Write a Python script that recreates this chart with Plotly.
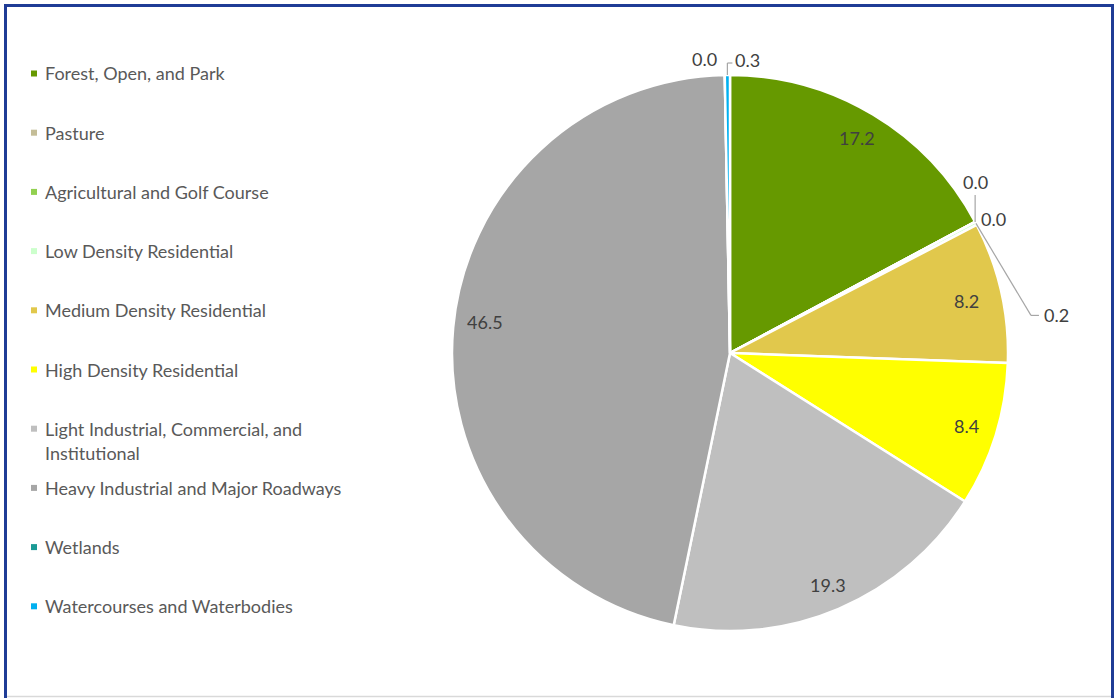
import math
import textwrap
import plotly.graph_objects as go

# Land-use shares (%) in drawing order, clockwise from 12 o'clock
categories = [
    "Forest, Open, and Park",
    "Pasture",
    "Agricultural and Golf Course",
    "Low Density Residential",
    "Medium Density Residential",
    "High Density Residential",
    "Light Industrial, Commercial, and Institutional",
    "Heavy Industrial and Major Roadways",
    "Wetlands",
    "Watercourses and Waterbodies",
]
shares = [17.2, 0.0, 0.0, 0.2, 8.2, 8.4, 19.3, 46.5, 0.0, 0.3]
colors = [
    "#669900", "#c4bd97", "#92d050", "#ccffcc", "#e1c84c",
    "#ffff00", "#bfbfbf", "#a6a6a6", "#1b9a95", "#00b0f0",
]

W, H = 1115, 698
CX, CY, R = 730, 353, 278          # pie centre and radius in pixels
FONT = "Lato"
LABEL_COLOR = "#404040"
LEGEND_COLOR = "#595959"
LEADER_COLOR = "#a6a6a6"


def px(x):
    return x / W


def py(y):
    return 1 - y / H


total = sum(shares)
mid_angles = []
acc = 0.0
for v in shares:
    mid_angles.append((acc + v / 2) / total * 360.0)
    acc += v


def polar(angle_deg, radius):
    a = math.radians(angle_deg)
    return CX + radius * math.sin(a), CY - radius * math.cos(a)


fig = go.Figure()
fig.add_trace(go.Pie(
    labels=categories,
    values=shares,
    sort=False,
    direction="clockwise",
    rotation=0,
    marker=dict(colors=colors, line=dict(color="white", width=2.5)),
    textinfo="none",
    hoverinfo="label+value",
    showlegend=False,
    domain=dict(x=[px(CX - R), px(CX + R)], y=[py(CY + R), py(CY - R)]),
))

annotations = []
shapes = []

# Small slices get their labels outside, some with leader lines
# (offsets in pixels from the slice's outer edge at mid-angle)
outside = {
    1: dict(line=[(0, 0), (0, -27)], text=(0, -40), anchor="center"),
    2: dict(line=None, text=(4, -3), anchor="left"),
    3: dict(line=[(0, 0), (55, 92), (63, 92)], text=(66, 92), anchor="left"),
    8: dict(line=None, text=(-6, -16), anchor="right"),
    9: dict(line=[(0, 0), (0, -12), (5, -12)], text=(6, -15), anchor="left"),
}
# Fine placement nudges for the inside labels (pixels)
inside_nudge = {0: (0, -3), 4: (-5, 2), 6: (1, 4), 7: (1, -8)}

for i, v in enumerate(shares):
    label = f"{v:.1f}"
    if i in outside:
        spec = outside[i]
        ex, ey = polar(mid_angles[i], R)
        if spec["line"]:
            pts = [(ex + dx, ey + dy) for dx, dy in spec["line"]]
            for (x0, y0), (x1, y1) in zip(pts[:-1], pts[1:]):
                shapes.append(dict(type="line", xref="paper", yref="paper",
                                   x0=px(x0), y0=py(y0), x1=px(x1), y1=py(y1),
                                   line=dict(color=LEADER_COLOR, width=1.2)))
        tx, ty = ex + spec["text"][0], ey + spec["text"][1]
        anchor = spec["anchor"]
    else:
        tx, ty = polar(mid_angles[i], R * 0.89)
        dx, dy = inside_nudge.get(i, (0, 0))
        tx, ty = tx + dx, ty + dy
        anchor = "center"
    annotations.append(dict(x=px(tx), y=py(ty), xref="paper", yref="paper",
                            text=label, showarrow=False,
                            xanchor=anchor, yanchor="middle",
                            font=dict(family=FONT, size=18, color=LABEL_COLOR)))

# Legend on the left: square swatch plus wrapped label
LEG_X, LEG_Y0, LEG_DY, LINE_DY = 34, 73.5, 59.2, 24
for i, (cat, col) in enumerate(zip(categories, colors)):
    yc = LEG_Y0 + LEG_DY * i
    shapes.append(dict(type="rect", xref="paper", yref="paper",
                       x0=px(LEG_X - 3), x1=px(LEG_X + 3),
                       y0=py(yc - 3), y1=py(yc + 3),
                       fillcolor=col, line=dict(width=0)))
    for k, line in enumerate(textwrap.wrap(cat, 36)):
        annotations.append(dict(x=px(43), y=py(yc + k * LINE_DY),
                                xref="paper", yref="paper", text=line,
                                showarrow=False, xanchor="left", yanchor="middle",
                                font=dict(family=FONT, size=18, color=LEGEND_COLOR)))

# Chart frame
BLUE = "#1f3c96"
shapes += [
    dict(type="line", xref="paper", yref="paper", x0=px(5.5), x1=px(5.5),
         y0=py(4), y1=py(H), line=dict(color=BLUE, width=3)),
    dict(type="line", xref="paper", yref="paper", x0=px(4), x1=px(1114),
         y0=py(5.5), y1=py(5.5), line=dict(color=BLUE, width=3)),
    dict(type="line", xref="paper", yref="paper", x0=px(1112.5), x1=px(1112.5),
         y0=py(4), y1=py(H), line=dict(color=BLUE, width=3)),
    dict(type="line", xref="paper", yref="paper", x0=px(7), x1=px(1111),
         y0=py(696.5), y1=py(696.5), line=dict(color="#d9d9d9", width=1.5)),
]

fig.update_layout(
    width=W, height=H,
    margin=dict(l=0, r=0, t=0, b=0),
    paper_bgcolor="white",
    plot_bgcolor="white",
    annotations=annotations,
    shapes=shapes,
    showlegend=False,
)

fig.write_html("out.html")
